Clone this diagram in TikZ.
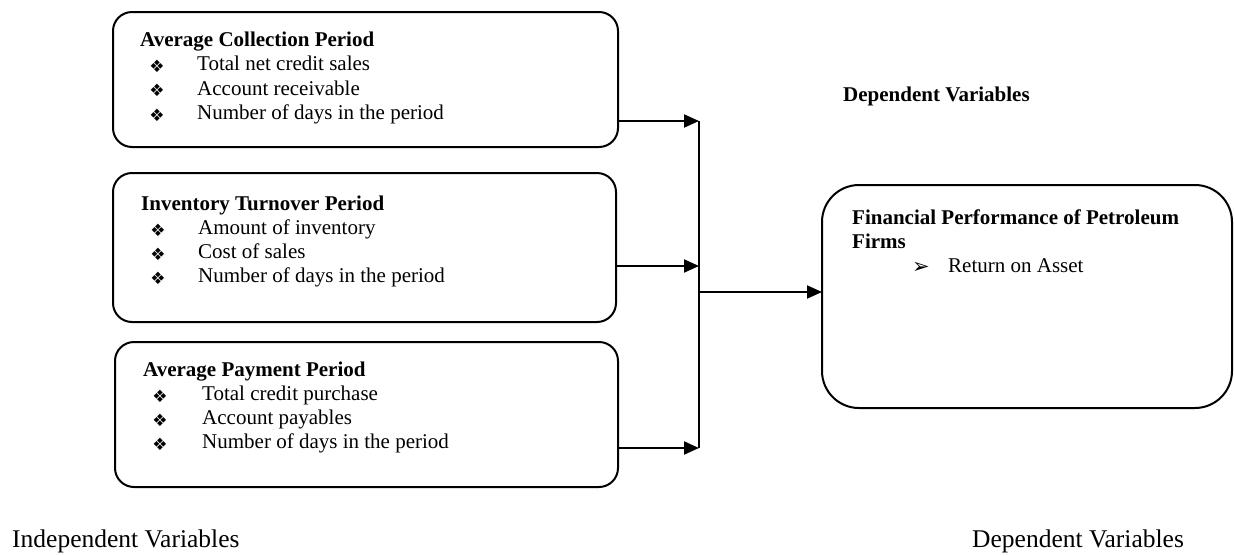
\documentclass[tikz,border=0pt]{standalone}
\usepackage{fontspec}
\setmainfont{Liberation Serif}
\newfontfamily\dvfont{DejaVu Sans}
\usetikzlibrary{arrows.meta}
\begin{document}
\begin{tikzpicture}[x=1pt,y=-1pt,
  box/.style={draw, line width=2pt, rounded corners=19pt, inner sep=0pt, outer sep=0pt},
  txt/.style={anchor=west, inner sep=0pt, font=\fontsize{21}{24}\selectfont, text height=14pt, text depth=5pt},
  ttl/.style={anchor=west, inner sep=0pt, font=\fontsize{21}{24}\selectfont\bfseries, text height=14pt, text depth=5pt},
  bul/.style={inner sep=0pt, font=\fontsize{17}{17}\dvfont},
  conn/.style={line width=2pt},
  arr/.style={conn, -{Triangle[length=15pt,width=13pt]}},
  big/.style={anchor=west, inner sep=0pt, font=\fontsize{25.5}{28}\selectfont, text height=17pt, text depth=6pt}
]
\useasboundingbox (0,0) rectangle (1234,555);

% boxes
\node[box, minimum width=505pt, minimum height=135pt] (b1) at (365.5,79.5) {};
\node[box, minimum width=503pt, minimum height=149pt] (b2) at (364.5,247.5) {};
\node[box, minimum width=503pt, minimum height=145pt] (b3) at (366.5,414.5) {};
\node[box, rounded corners=37pt, minimum width=410pt, minimum height=223pt] (dep) at (1027,296.5) {};

% box 1 text
\node[ttl] (t1) at (140,42) {Average Collection Period};
\node[bul] (u1a) at (157,66) {❖};
\node[txt] (t1a) at (197,66) {Total net credit sales};
\node[bul] (u1b) at (157,90.5) {❖};
\node[txt] (t1b) at (197,90.5) {Account receivable};
\node[bul] (u1c) at (157,115) {❖};
\node[txt] (t1c) at (197,115) {Number of days in the period};

% box 2 text
\node[ttl] (t2) at (141,206) {Inventory Turnover Period};
\node[bul] (u2a) at (158,230) {❖};
\node[txt] (t2a) at (198,230) {Amount of inventory};
\node[bul] (u2b) at (158,254) {❖};
\node[txt] (t2b) at (198,254) {Cost of sales};
\node[bul] (u2c) at (158,278) {❖};
\node[txt] (t2c) at (198,278) {Number of days in the period};

% box 3 text
\node[ttl] (t3) at (143,372) {Average Payment Period};
\node[bul] (u3a) at (160,396) {❖};
\node[txt] (t3a) at (202,396) {Total credit purchase};
\node[bul] (u3b) at (160,420) {❖};
\node[txt] (t3b) at (202,420) {Account payables};
\node[bul] (u3c) at (160,444) {❖};
\node[txt] (t3c) at (202,444) {Number of days in the period};

% dependent box text
\node[ttl] (hd) at (843,97) {Dependent Variables};
\node[ttl] (t4) at (852,220) {Financial Performance of Petroleum};
\node[ttl] (t4b) at (852,244) {Firms};
\node[bul, font=\fontsize{21}{21}\dvfont] (u4) at (921,268) {➢};
\node[txt] (t4a) at (948,268) {Return on Asset};

% bottom labels
\node[big] (li) at (12,542) {Independent Variables};
\node[big] (ld) at (972,542) {Dependent Variables};

% connectors
\coordinate (j1) at (699,121);
\coordinate (j2) at (699,266);
\coordinate (j3) at (699,448);
\coordinate (jm) at (699,292);
\draw[conn] (j1) -- (j3);
\draw[arr] (b1.east |- j1) -- (j1);
\draw[arr] (b2.east |- j2) -- (j2);
\draw[arr] (b3.east |- j3) -- (j3);
\draw[arr] (jm) -- (dep.west |- jm);
\end{tikzpicture}
\end{document}
